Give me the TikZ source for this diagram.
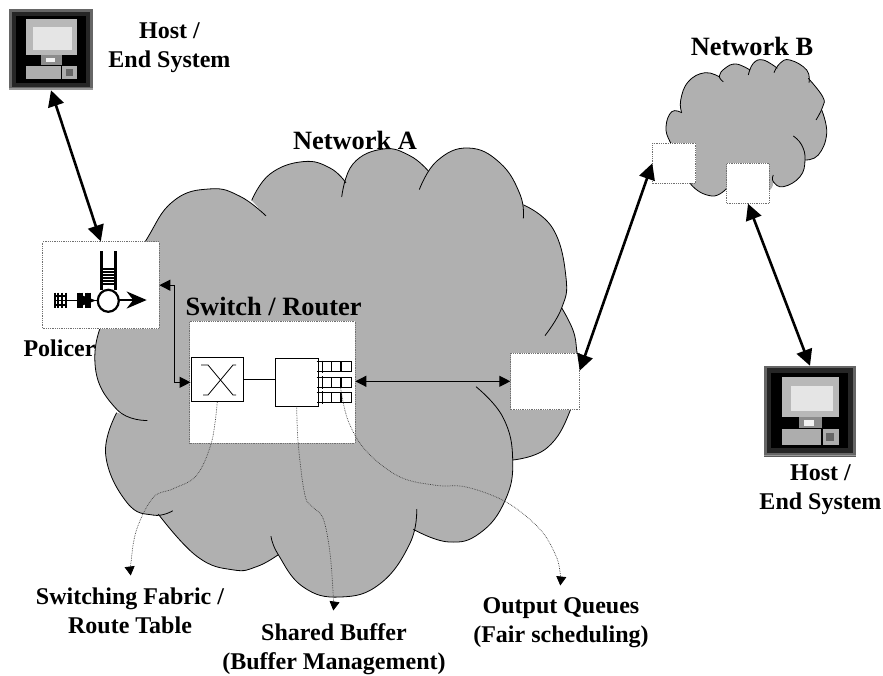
\documentclass[tikz,border=0pt]{standalone}
\usepackage{fontspec}
\setmainfont{Liberation Serif}
\usetikzlibrary{arrows.meta}
\definecolor{cloudgray}{HTML}{B0B0B0}
\definecolor{edgegray}{HTML}{707070}
\newcommand\lobedef[2]{%
  \expandafter\def\csname #1\endcsname{plot[smooth,tension=.75] coordinates{#2}}%
  \expandafter\def\csname #1c\endcsname{-- plot[smooth,tension=.75] coordinates{#2}}}
\lobedef{LA}{(147.3,420.5)(116.7,409.3)(95,363.7)(110,302.8)(145,242)(173,201.4)(210,188.9)(240,196.3)(266,215.9)}
\lobedef{LB}{(251.7,200.4)(270,174)(303.3,161.6)(330,168)(346,182.9)}
\lobedef{LC}{(341.7,197)(353,163.9)(383.3,149)(410,155.8)(428.3,171)}
\lobedef{LD}{(419.3,189.6)(437,160.9)(468.3,148)(500,162.9)(520,194.3)(523.3,218.4)}
\lobedef{LE}{(523.3,204.8)(553,228.8)(566,277.5)(561.7,307.9)(545,335.6)}
\lobedef{LF}{(561.7,307.9)(573,330.2)(576.7,350.2)(578,370.8)(570,411)(547,447.9)(512.7,460)}
\lobedef{LG}{(476,386.7)(503,417.4)(512.7,460)(505,500.6)(480,533)(448.3,541.9)(413.3,529.3)}
\lobedef{LH}{(416.7,509)(410,543.2)(380,583.8)(340,597)(303,586.8)(278.3,554.7)(271,536.1)}
\lobedef{LI}{(278.3,554.7)(257,566.5)(233.3,569.9)(197,556.4)(158.3,514.1)}
\lobedef{LJ}{(172.7,510.8)(153.3,515.1)(127,502.6)(105.7,455)(116.7,412.7)}
\lobedef{BA}{(681.7,112.7)(671.7,111.7)(666,126.7)(670,141.7)(680,156.7)(690,183.3)(711.7,196)(726.7,188.3)}
\lobedef{BB}{(726.7,186)(747,200)(770,190)(773.3,175)}
\lobedef{BC}{(773.3,175)(773.3,181.7)(783.3,186.7)(800,176.7)(805,160)(801.7,145)(793.3,136)}
\lobedef{BD}{(805,160)(818.3,155)(826.7,133.3)(821.7,110)}
\lobedef{BE}{(816,120)(822.7,106.7)(822.7,96.7)(808.3,78.3)}
\lobedef{BF}{(809,82.7)(806.7,70)(790,60)(780,63.3)(774,72.7)}
\lobedef{BG}{(777.3,68.3)(763.3,60)(753.3,63.3)(748.3,75)}
\lobedef{BH}{(750,70)(736,64)(725,68.3)(719.3,76)(723.3,81.7)}
\lobedef{BI}{(720,77.3)(705,72.7)(688.3,81.7)(680.7,100)(681.7,112.7)}
\tikzset{
  lobe/.style={draw=black,line width=.8pt},
  txt/.style={font=\fontsize{24}{29}\selectfont\bfseries,align=center,inner sep=0pt,text=black},
  bigtxt/.style={font=\fontsize{26.4}{30}\selectfont\bfseries,align=center,inner sep=0pt,text=black},
  whitebox/.style={fill=white,draw=edgegray,densely dotted,line width=.8pt,inner sep=0pt},
  plainbox/.style={fill=white,draw=black,line width=1pt,inner sep=0pt},
  hostbox/.style={fill=black!65,inner sep=0pt},
  thickarrow/.style={line width=2.6pt,{Triangle[length=16pt,width=16pt]}-{Triangle[length=16pt,width=16pt]}},
  thinarrow/.style={line width=1.1pt,{Triangle[length=11pt,width=11pt]}-{Triangle[length=11pt,width=11pt]}},
  leader/.style={line width=.7pt,densely dotted,draw=black!75,-{Triangle[length=9pt,width=10pt,color=black,fill=black]}},
  hosticon/.pic={
    \fill[black!60] (0,0) rectangle (1,1);
    \fill[black!40] (0,.98) rectangle (1,1);
    \fill[black!85] (.03,.03) rectangle (.97,.96);
    \fill[black] (.08,.08) rectangle (.92,.91);
    \fill[black!28] (.2,.12) rectangle (.82,.57);
    \fill[black!10] (.29,.22) rectangle (.75,.5);
    \fill[black!45] (.38,.57) rectangle (.63,.69);
    \fill[black!5] (.44,.6) rectangle (.55,.66);
    \fill[black!32] (.2,.7) rectangle (.62,.87);
    \fill[black!32] (.64,.7) rectangle (.82,.87);
    \fill[black!60] (.68,.74) rectangle (.77,.83);
  }
}
\begin{document}
\begin{tikzpicture}[x=1pt,y=-1pt]
\useasboundingbox (0,0) rectangle (883,675);
% clouds
\fill[cloudgray] \LA \LBc \LCc \LDc \LEc \LFc \LGc \LHc \LIc \LJc -- cycle;
\foreach \l in {\LA,\LB,\LC,\LD,\LE,\LF,\LG,\LH,\LI,\LJ} {\draw[lobe] \l;}
\fill[cloudgray] \BA \BBc \BCc \BDc \BEc \BFc \BGc \BHc \BIc -- cycle;
\foreach \l in {\BA,\BC,\BD,\BE,\BF,\BG,\BH,\BI} {\draw[lobe] \l;}
% hosts
\node[hostbox,minimum width=83.4pt,minimum height=80.7pt] (host1) at (51,49.7) {};
\pic[x=83.4pt,y=-80.7pt] at (host1.north west) {hosticon};
\node[hostbox,minimum width=91.4pt,minimum height=90.7pt] (host2) at (810,411.3) {};
\pic[x=91.4pt,y=-90.7pt] at (host2.north west) {hosticon};
% boxes
\node[whitebox,minimum width=116.3pt,minimum height=87pt] (policer) at (100.8,285.2) {};
\node[whitebox,minimum width=165.3pt,minimum height=122pt] (switch) at (272.3,382.3) {};
\node[whitebox,minimum width=68.6pt,minimum height=56.8pt] (boxA) at (545,381.3) {};
\node[whitebox,minimum width=43pt,minimum height=40pt] (boxB1) at (674.2,163.3) {};
\node[whitebox,minimum width=42.6pt,minimum height=40pt] (boxB2) at (748,183.3) {};
\node[plainbox,minimum width=52.3pt,minimum height=44.4pt] (xbar) at (217.2,379.5) {};
\node[plainbox,minimum width=42.7pt,minimum height=47.7pt] (buf) at (296.7,382.2) {};
% crossbar
\draw[line width=.8pt] (201,365) -- (208,365) -- (233,395) -- (236,395);
\draw[line width=.8pt] (203,395) -- (208,395) -- (233,365) -- (236,365);
% queues
\foreach \y in {361.7,377.3,392.3} {
  \draw[line width=1.1pt] (316.7,\y) -- (351.7,\y) -- (351.7,\y+10) -- (316.7,\y+10);
  \draw[line width=1.3pt] (322.3,\y-1) -- (322.3,\y+11.5);
  \foreach \x in {331.7,341} {\draw[line width=1.1pt] (\x,\y) -- (\x,\y+10);}
}
% policer icon
\draw[line width=2.5pt] (101.7,251) -- (101.7,290);
\draw[line width=2.5pt] (115.7,251) -- (115.7,290);
\foreach \y in {269,272,275,278,281,284} {\draw[line width=1.7pt] (101.7,\y) -- (115.7,\y);}
\draw[line width=1.1pt] (54,300.5) -- (98,300.5);
\foreach \a in {54.5,58,62,65.5} {\draw[line width=2pt] (\a,292.5) -- (\a,308);}
\foreach \a in {78,81.5,86,89.5} {\draw[line width=3pt] (\a,292.5) -- (\a,308);}
\draw[line width=1.4pt] (54,296) -- (66,296) (54,305) -- (66,305);
\fill (81,295) -- (96,300.5) -- (81,306) -- cycle;
\draw[line width=2.2pt,fill=white] (108.3,300.8) ellipse[x radius=10.5pt,y radius=11pt];
\draw[line width=2.5pt,-{Stealth[length=20pt,width=17pt]}] (119,300) -- (146.7,300);
% connectors
\draw[thickarrow] (host1.south) -- (policer.north);
\draw[thickarrow] (boxA.17) -- (boxB1.west);
\draw[thickarrow] (boxB2.south) -- (host2.north);
\draw[thinarrow] (policer.east) -- ++(15,0) |- (xbar.186);
\draw[line width=1pt] (xbar.east) -- (xbar.east -| buf.west);
\draw[thinarrow] (boxA.west -| switch.east) -- (boxA.west);
% leaders
\coordinate (tipF) at (130.7,575.5);
\coordinate (tipB) at (333.3,610.5);
\coordinate (tipQ) at (560.3,585.5);
\draw[leader] plot[smooth,tension=.6] coordinates{(xbar.south)(211.7,441.5)(196.7,475.3)(173.3,488.7)(153.3,497.3)(136.7,529.3)(131,562)(tipF)};
\draw[leader] plot[smooth,tension=.6] coordinates{(buf.south)(298.3,444.8)(305,495.5)(313.3,507.4)(323.3,518.9)(330,553)(333.3,597)(tipB)};
\draw[leader] plot[smooth,tension=.6] coordinates{(340.7,388.3)(348.3,421.2)(366.7,451.6)(400,477)(436.7,485.4)(466.7,487.1)(506.7,502.3)(540,529.3)(556,556)(560.3,574)(tipQ)};
% labels
\node[txt] (hostA) at (169.5,48) {Host /\\End System};
\node[txt] (hostB) at (820.5,490) {Host /\\End System};
\node[bigtxt] (netA) at (355,140.5) {Network A};
\node[bigtxt] (netB) at (752,46) {Network B};
\node[bigtxt] (swlabel) at (273.5,306.5) {Switch / Router};
\node[txt] (pollabel) at (59.5,348) {Policer};
\node[txt] (fablabel) at (130,611) {Switching Fabric /\\Route Table};
\node[txt] (buflabel) at (334,649) {Shared Buffer\\(Buffer Management)};
\node[txt] (qlabel) at (561,622.5) {Output Queues\\(Fair scheduling)};
\end{tikzpicture}
\end{document}
